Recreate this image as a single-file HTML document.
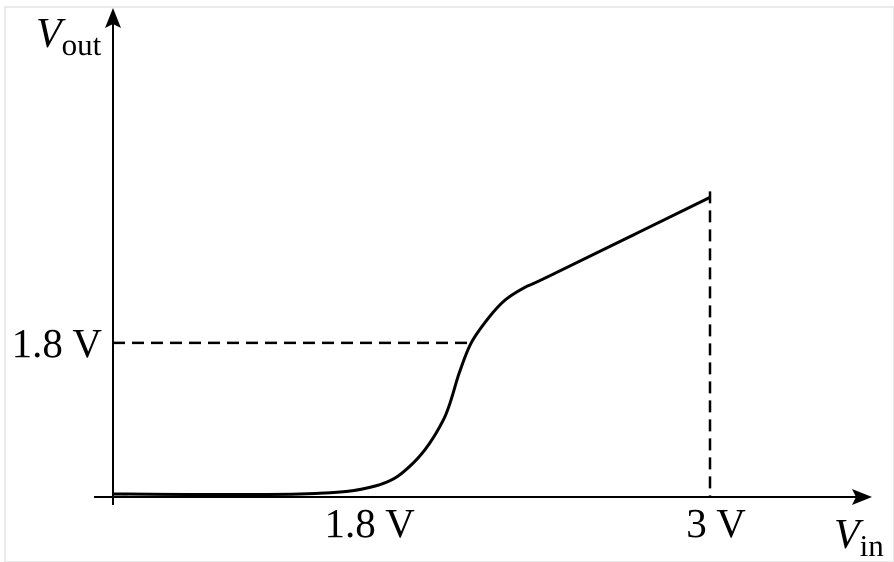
<!DOCTYPE html>
<html><head><meta charset="utf-8"><style>
html,body{margin:0;padding:0;background:#fff;}
svg{display:block;font-family:"Liberation Serif",serif;}
</style></head><body>
<svg id="chart" width="894" height="562" viewBox="0 0 894 562">
<rect x="5" y="7" width="889" height="555" fill="#fff" stroke="#e4e4e4" stroke-width="1.5"/>
<g id="axes">
<line x1="94" y1="497" x2="862" y2="497" stroke="#000" stroke-width="2"/>
<polygon points="872,497 852,489 856,497 852,505" fill="#000"/>
<line x1="113" y1="505" x2="113" y2="18" stroke="#000" stroke-width="2"/>
<polygon points="113,8 105,28 113,24 121,28" fill="#000"/>
<text x="36" y="47" font-size="42" font-style="italic">V<tspan font-size="31" font-style="normal" dy="8">out</tspan></text>
<text x="834" y="548" font-size="42" font-style="italic">V<tspan font-size="31" font-style="normal" dy="8">in</tspan></text>
</g>
<g id="marks"></g>
</svg>
<script>
const vinVals=[0,0.94,1.32,1.51,1.66,1.74,1.80,1.89,1.97,2.07,2.20,3.0];
const voutVals=[0.035,0.035,0.13,0.40,0.90,1.45,1.80,2.10,2.30,2.45,2.59,3.50];
const xTickVals=[1.26,3];
const xTickLabels=["1.8 V","3 V"];
const yTickVals=[1.8];
const yTickLabels=["1.8 V"];
const NS="http://www.w3.org/2000/svg";
function xs(v){return 113+v*199;}
function ys(v){return 497-v*85.6;}
const g=document.getElementById('marks');
const pts=vinVals.map((v,i)=>[xs(v),ys(voutVals[i])]);
let d="M"+pts[0][0]+","+pts[0][1];
for(let i=0;i<pts.length-1;i++){
 const p0=pts[Math.max(0,i-1)],p1=pts[i],p2=pts[i+1],p3=pts[Math.min(pts.length-1,i+2)];
 const c1=[p1[0]+(p2[0]-p0[0])/6,p1[1]+(p2[1]-p0[1])/6];
 const c2=[p2[0]-(p3[0]-p1[0])/6,p2[1]-(p3[1]-p1[1])/6];
 d+=" C"+c1[0]+","+c1[1]+" "+c2[0]+","+c2[1]+" "+p2[0]+","+p2[1];
}
const last=vinVals.length-1;
const vdash=document.createElementNS(NS,'line');


vdash.setAttribute('x1',xs(vinVals[last]));vdash.setAttribute('x2',xs(vinVals[last]));
vdash.setAttribute('y1',ys(voutVals[last])-6);vdash.setAttribute('y2',ys(0));
vdash.setAttribute('stroke','#000');vdash.setAttribute('stroke-width','2.5');vdash.setAttribute('stroke-dasharray','12 7');
g.appendChild(vdash);
yTickVals.forEach((v,i)=>{
 let xi=vinVals[0];
 for(let k=0;k<voutVals.length-1;k++){if(voutVals[k]<=v&&voutVals[k+1]>=v){xi=vinVals[k]+(v-voutVals[k])/(voutVals[k+1]-voutVals[k])*(vinVals[k+1]-vinVals[k]);break;}}
 const l=document.createElementNS(NS,'line');
 
 
 l.setAttribute('x1',xs(0));l.setAttribute('x2',xs(xi));l.setAttribute('y1',ys(v));l.setAttribute('y2',ys(v));
 l.setAttribute('stroke','#000');l.setAttribute('stroke-width','2.5');l.setAttribute('stroke-dasharray','12 7');
 g.appendChild(l);
 const t=document.createElementNS(NS,'text');
 
 
 t.setAttribute('x',102);t.setAttribute('y',ys(v)+14);t.setAttribute('text-anchor','end');t.setAttribute('font-size','41');
 t.textContent=yTickLabels[i];g.appendChild(t);
});
xTickVals.forEach((v,i)=>{
 const t=document.createElementNS(NS,'text');
 
 
 t.setAttribute('x',xs(v)+6);t.setAttribute('y',537);t.setAttribute('text-anchor','middle');t.setAttribute('font-size','41');
 t.textContent=xTickLabels[i];g.appendChild(t);
});
const path=document.createElementNS(NS,'path');


path.setAttribute('d',d);path.setAttribute('fill','none');path.setAttribute('stroke','#000');path.setAttribute('stroke-width','3');
g.appendChild(path);
</script>
</body></html>
